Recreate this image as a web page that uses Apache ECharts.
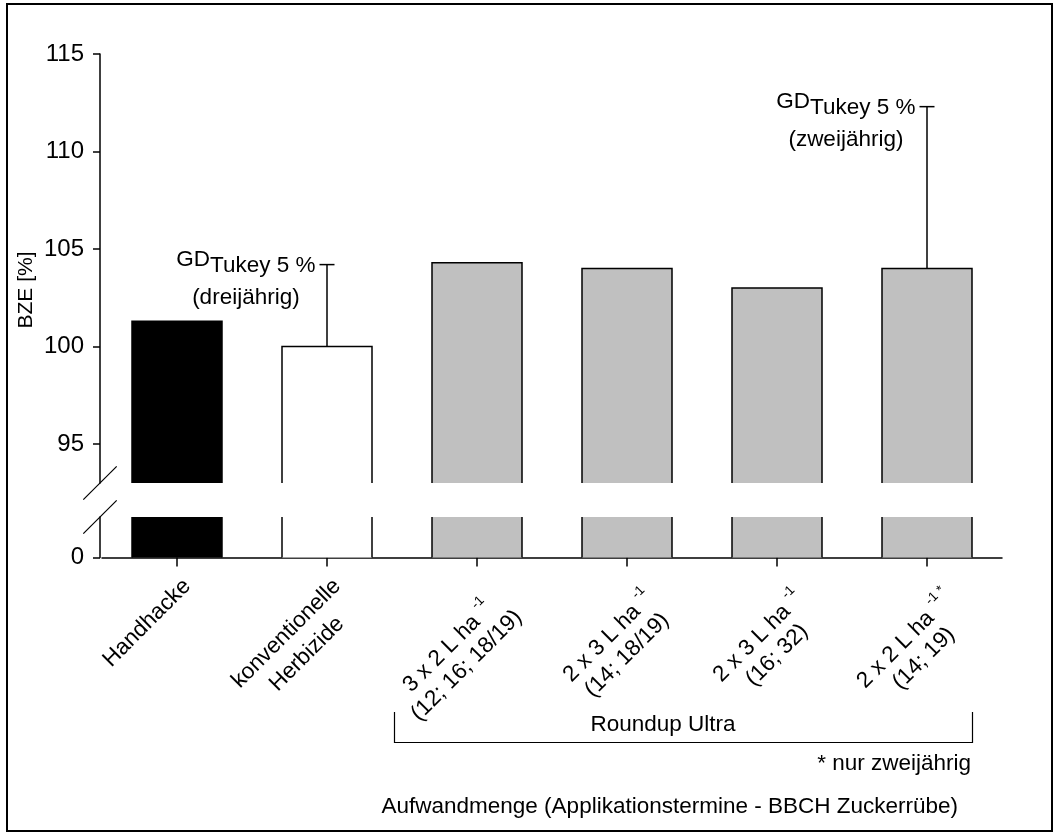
<!DOCTYPE html>
<html>
<head>
<meta charset="utf-8">
<script src="https://cdn.jsdelivr.net/npm/echarts@6/dist/echarts.min.js"></script>
<style>
  html, body { margin: 0; padding: 0; background: #fff; }
  #chart { width: 1059px; height: 835px; }
</style>
</head>
<body>
<div id="chart"></div>
<script>
// Treatments on the x axis ('^' starts the superscript part of a line)
const categories = [
  'Handhacke',
  'konventionelle\nHerbizide',
  '3 x 2 L ha ^-1\n(12; 16; 18/19)',
  '2 x 3 L ha ^-1\n(14; 18/19)',
  '2 x 3 L ha ^-1\n(16; 32)',
  '2 x 2 L ha ^-1 *\n(14; 19)'
];
// BZE [%] per treatment
const bzeValues = [101.3, 100, 104.3, 104.0, 103.0, 104.0];
const barColors = ['#000000', '#ffffff', '#c0c0c0', '#c0c0c0', '#c0c0c0', '#c0c0c0'];
// GD Tukey 5 % bars: category index, upper end, note
const gdCategory = [1, 5];
const gdUpper = [104.2, 112.3];
const gdNote = ['(dreijährig)', '(zweijährig)'];
// Tick labels of the broken y axis
const yTicksUpper = [95, 100, 105, 110, 115];
const yTicksLower = [0];

const FONT = '"Liberation Sans", Arial, Helvetica, sans-serif';
const FS = 22.5;
const FS_TICK = 24;
const GRID_LEFT = 102, GRID_W = 900;
const UP_TOP = 54, UP_H = 429;
const LOW_TOP = 517, LOW_H = 40.5;
const AXIS_X = GRID_LEFT - 2;
const LINE_W = 1.5;

function fmtCategory(value) {
  return value.split('\n').map(function (line) {
    const parts = line.split('^');
    if (parts.length > 1) return '{h|' + parts[0] + '}{s|' + parts[1] + '}';
    return '{t|' + parts[0] + '}';
  }).join('\n');
}

// Bars are cut at the axis break: no outline along a cut edge
function renderBar(params, api) {
  const cs = params.coordSys;
  const p = api.coord([api.value(0), api.value(1)]);
  const w = api.size([1, 0])[0] * 0.6;
  const bottom = cs.y + cs.height;
  const cut = p[1] < cs.y;
  const top = cut ? cs.y : p[1];
  const xl = p[0] - w / 2, xr = p[0] + w / 2;
  const stroke = { stroke: '#000', lineWidth: LINE_W, fill: null };
  const children = [{
    type: 'rect',
    shape: { x: xl, y: top, width: w, height: bottom - top },
    style: { fill: barColors[params.dataIndex] }
  }];
  if (cut) {
    children.push({ type: 'line', shape: { x1: xl, y1: top, x2: xl, y2: bottom }, style: stroke });
    children.push({ type: 'line', shape: { x1: xr, y1: top, x2: xr, y2: bottom }, style: stroke });
  } else {
    children.push({ type: 'polyline', shape: { points: [[xl, bottom], [xl, top], [xr, top], [xr, bottom]] }, style: stroke });
  }
  return { type: 'group', children: children };
}

function renderGD(params, api) {
  const x = api.value(0);
  const base = api.coord([x, api.value(1)]);
  const top = api.coord([x, api.value(2)]);
  const k = api.value(3);
  const capHalf = 7.5;
  const stroke = { stroke: '#000', lineWidth: LINE_W };
  return {
    type: 'group',
    children: [
      { type: 'line', shape: { x1: base[0], y1: base[1], x2: top[0], y2: top[1] }, style: stroke },
      { type: 'line', shape: { x1: top[0] - capHalf, y1: top[1], x2: top[0] + capHalf, y2: top[1] }, style: stroke },
      {
        type: 'text',
        x: top[0] - capHalf - 4,
        y: top[1] - 13,
        style: {
          text: '{g|GD}{u|Tukey 5 %}\n{n|' + gdNote[k] + '}',
          align: 'right',
          verticalAlign: 'top',
          fill: '#000',
          rich: {
            g: { fontSize: FS, fontFamily: FONT, lineHeight: FS, padding: [0, 0, 6, 0], fill: '#000', color: '#000' },
            u: { fontSize: FS, fontFamily: FONT, lineHeight: FS, padding: [6, 0, 0, 0], fill: '#000', color: '#000' },
            n: { fontSize: FS, fontFamily: FONT, lineHeight: 47, align: 'center', fill: '#000', color: '#000' }
          }
        }
      }
    ]
  };
}

const chart = echarts.init(document.getElementById('chart'), null, { renderer: 'canvas' });

const axisLineStyle = { color: '#000', width: LINE_W };
const barData = bzeValues.map(function (v, i) { return [i, v]; });
const gdData = gdCategory.map(function (c, k) { return [c, bzeValues[c], gdUpper[k], k]; });

const option = {
  animation: false,
  backgroundColor: '#fff',
  textStyle: { fontFamily: FONT, color: '#000' },
  grid: [
    { left: GRID_LEFT, top: UP_TOP, width: GRID_W, height: UP_H, outerBoundsMode: 'none', containLabel: false },
    { left: GRID_LEFT, top: LOW_TOP, width: GRID_W, height: LOW_H, outerBoundsMode: 'none', containLabel: false }
  ],
  xAxis: [
    { gridIndex: 0, type: 'category', data: categories, show: false },
    {
      gridIndex: 1, type: 'category', data: categories,
      axisLine: { show: true, lineStyle: axisLineStyle },
      axisTick: { show: true, alignWithLabel: true, length: 9, lineStyle: axisLineStyle },
      splitLine: { show: false },
      axisLabel: {
        interval: 0, rotate: 45, margin: 15, verticalAlign: 'top',
        formatter: fmtCategory,
        rich: {
          t: { fontSize: FS, fontFamily: FONT, color: '#000', lineHeight: 29, align: 'center' },
          h: { fontSize: FS, fontFamily: FONT, color: '#000', lineHeight: 25, verticalAlign: 'bottom', align: 'center' },
          s: { fontSize: 13.5, fontFamily: FONT, color: '#000', lineHeight: 44, verticalAlign: 'middle', align: 'center' }
        }
      }
    }
  ],
  yAxis: [
    {
      gridIndex: 0, type: 'value', min: 93, max: 115, offset: GRID_LEFT - AXIS_X,
      axisLine: { show: true, lineStyle: axisLineStyle },
      axisTick: { show: true, length: 7, customValues: yTicksUpper, lineStyle: axisLineStyle },
      axisLabel: { customValues: yTicksUpper, fontSize: FS_TICK, fontFamily: FONT, color: '#000', margin: 16 },
      splitLine: { show: false }
    },
    {
      gridIndex: 1, type: 'value', min: 0, max: 2, offset: GRID_LEFT - AXIS_X,
      axisLine: { show: true, lineStyle: axisLineStyle },
      axisTick: { show: true, length: 7, customValues: yTicksLower, lineStyle: axisLineStyle },
      axisLabel: { customValues: yTicksLower, fontSize: FS_TICK, fontFamily: FONT, color: '#000', margin: 16 },
      splitLine: { show: false }
    }
  ],
  series: [
    { type: 'custom', xAxisIndex: 0, yAxisIndex: 0, data: barData, encode: { x: 0, y: 1 }, renderItem: renderBar, z: 2 },
    { type: 'custom', xAxisIndex: 1, yAxisIndex: 1, data: barData, encode: { x: 0, y: 1 }, renderItem: renderBar, z: 2 },
    { type: 'custom', xAxisIndex: 0, yAxisIndex: 0, data: gdData, encode: { x: 0, y: [1, 2] }, renderItem: renderGD, z: 3 }
  ],
  graphic: [
    // frame around the figure
    { type: 'rect', shape: { x: 7, y: 4, width: 1045, height: 827 }, style: { fill: null, stroke: '#000', lineWidth: 2 }, silent: true },
    // axis break marks
    { type: 'line', shape: { x1: AXIS_X - 16.7, y1: UP_TOP + UP_H + 16.7, x2: AXIS_X + 16.7, y2: UP_TOP + UP_H - 16.7 }, style: { stroke: '#000', lineWidth: 1.2 } },
    { type: 'line', shape: { x1: AXIS_X - 16.7, y1: LOW_TOP + 16.7, x2: AXIS_X + 16.7, y2: LOW_TOP - 16.7 }, style: { stroke: '#000', lineWidth: 1.2 } },
    // y axis title
    { type: 'text', x: 26, y: 290, rotation: Math.PI / 2, style: { text: 'BZE [%]', fontSize: 21, fontFamily: FONT, fill: '#000', align: 'center', verticalAlign: 'middle' } },
    // Roundup Ultra bracket
    { type: 'polyline', shape: { points: [[394.5, 712], [394.5, 742.5], [972.5, 742.5], [972.5, 712]] }, style: { stroke: '#000', lineWidth: 1.2, fill: null } },
    { type: 'text', x: 663, y: 725, style: { text: 'Roundup Ultra', fontSize: FS, fontFamily: FONT, fill: '#000', align: 'center', verticalAlign: 'middle' } },
    { type: 'text', x: 971, y: 764, style: { text: '* nur zweijährig', fontSize: FS, fontFamily: FONT, fill: '#000', align: 'right', verticalAlign: 'middle' } },
    { type: 'text', x: 958, y: 807, style: { text: 'Aufwandmenge (Applikationstermine - BBCH Zuckerrübe)', fontSize: FS, fontFamily: FONT, fill: '#000', align: 'right', verticalAlign: 'middle' } }
  ]
};

chart.setOption(option);
</script>
</body>
</html>
